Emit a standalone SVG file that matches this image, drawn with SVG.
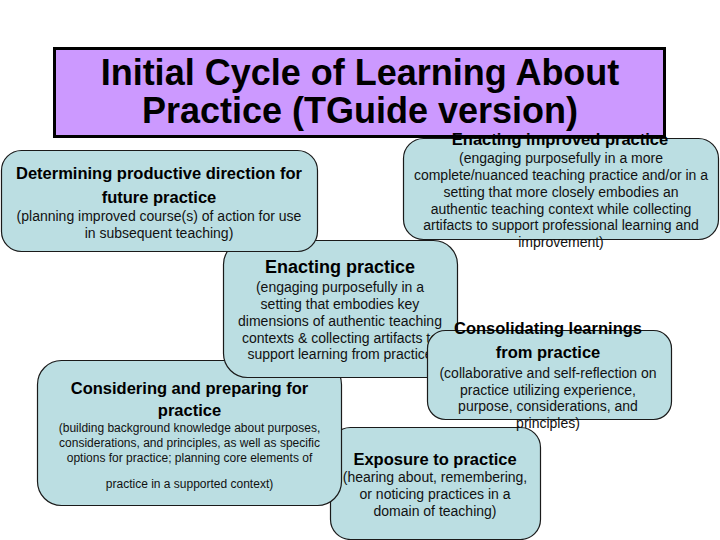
<svg xmlns="http://www.w3.org/2000/svg" width="720" height="540" viewBox="0 0 720 540">
<style>
  .box { fill: #BBDEE2; stroke: #1a1a1a; stroke-width: 1.2; }
  .hd { font-family: "Liberation Sans", Arial, sans-serif; font-weight: bold; font-size: 16.5px; fill: #000; text-anchor: middle; }
  .bd { font-family: "Liberation Sans", Arial, sans-serif; font-size: 14px; fill: #111; text-anchor: middle; }
  .sm { font-family: "Liberation Sans", Arial, sans-serif; font-size: 12px; fill: #111; text-anchor: middle; }
  .ttl { font-family: "Liberation Sans", Arial, sans-serif; font-weight: bold; font-size: 36px; fill: #000; text-anchor: middle; }
</style>
<rect width="720" height="540" fill="#ffffff"/>

<g id="title">
  <rect x="54.5" y="48.5" width="610" height="88" fill="#CC99FF" stroke="#000" stroke-width="3"/>
  <text class="ttl" x="360" y="85">Initial Cycle of Learning About</text>
  <text class="ttl" x="360" y="123">Practice (TGuide version)</text>
</g>

<g id="enacting-improved">
  <rect class="box" x="403.5" y="138.5" width="315" height="101" rx="20"/>
  <text class="hd" x="560" y="145">Enacting improved practice</text>
  <text class="bd" x="561" y="163">(engaging purposefully in a more</text>
  <text class="bd" x="561" y="180">complete/nuanced teaching practice and/or in a</text>
  <text class="bd" x="561" y="197">setting that more closely embodies an</text>
  <text class="bd" x="561" y="213.5">authentic teaching context while collecting</text>
  <text class="bd" x="561" y="230">artifacts to support professional learning and</text>
  <text class="bd" x="561" y="246.5">improvement)</text>
</g>

<g id="exposure">
  <rect class="box" x="330.5" y="427.5" width="210" height="112" rx="20"/>
  <text class="hd" x="435" y="465">Exposure to practice</text>
  <text class="bd" x="435" y="482">(hearing about, remembering,</text>
  <text class="bd" x="435" y="499">or noticing practices in a</text>
  <text class="bd" x="435" y="516">domain of teaching)</text>
</g>

<g id="considering">
  <rect class="box" x="37.5" y="360.5" width="304" height="145" rx="24"/>
  <text class="hd" x="189.5" y="394">Considering and preparing for</text>
  <text class="hd" x="189.5" y="416">practice</text>
  <text class="sm" x="189.5" y="432">(building background knowledge about purposes,</text>
  <text class="sm" x="189.5" y="447">considerations, and principles, as well as specific</text>
  <text class="sm" x="189.5" y="462">options for practice; planning core elements of</text>
  <text class="sm" x="189.5" y="488">practice in a supported context)</text>
</g>

<g id="enacting">
  <rect class="box" x="223.5" y="240.5" width="234" height="137" rx="24"/>
  <text class="hd" x="340" y="273" style="font-size:18px">Enacting practice</text>
  <text class="bd" x="340" y="292">(engaging purposefully in a</text>
  <text class="bd" x="340" y="309">setting that embodies key</text>
  <text class="bd" x="340" y="326">dimensions of authentic teaching</text>
  <text class="bd" x="340" y="342.5">contexts &amp; collecting artifacts to</text>
  <text class="bd" x="340" y="359">support learning from practice</text>
</g>

<g id="determining">
  <rect class="box" x="1.5" y="150.5" width="316" height="101" rx="20"/>
  <text class="hd" x="159" y="179">Determining productive direction for</text>
  <text class="hd" x="159" y="203">future practice</text>
  <text class="bd" x="159" y="221">(planning improved course(s) of action for use</text>
  <text class="bd" x="159" y="238">in subsequent teaching)</text>
</g>

<g id="consolidating">
  <rect class="box" x="427.5" y="330.5" width="244" height="89" rx="18"/>
  <text class="hd" x="548" y="334">Consolidating learnings</text>
  <text class="hd" x="548" y="358">from practice</text>
  <text class="bd" x="548" y="378">(collaborative and self-reflection on</text>
  <text class="bd" x="548" y="394.5">practice utilizing experience,</text>
  <text class="bd" x="548" y="411">purpose, considerations, and</text>
  <text class="bd" x="548" y="427.5">principles)</text>
</g>

<g id="connectors"></g>
</svg>
